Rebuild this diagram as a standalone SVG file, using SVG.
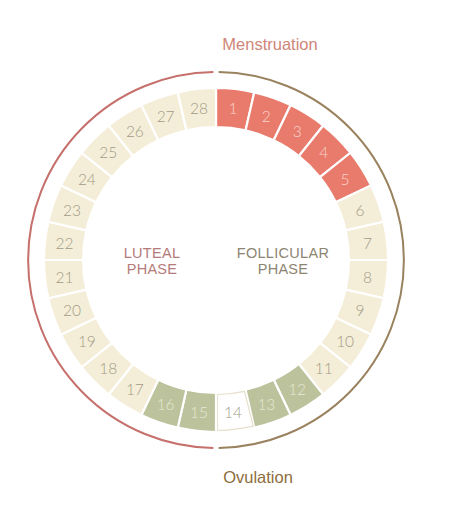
<svg xmlns="http://www.w3.org/2000/svg" width="453" height="509" viewBox="0 0 453 509">
<style>
.cell{stroke:#ffffff;stroke-width:2.2}
.b{fill:#f4eed8}
.r{fill:#e87b6c}
.g{fill:#bcc29b}
.w{fill:#ffffff}
.n{font-family:Lato,"Open Sans","Liberation Sans",sans-serif;font-weight:300;font-size:15.5px;text-anchor:middle;dominant-baseline:central}
.nb{fill:#a39a86}
.nr{fill:#f8d6cc}
.ng{fill:#e6e9d6}
.lab{font-family:"Liberation Sans",Arial,sans-serif;font-size:16.5px;text-anchor:middle}
.ph{font-family:"Liberation Sans",Arial,sans-serif;font-size:14.5px;text-anchor:middle;letter-spacing:0.3px}
</style>
<rect width="453" height="509" fill="#ffffff"/>
<g id="connectors">
<path d="M 213.38 72.02 A 188 188 0 0 0 213.38 447.98" fill="none" stroke="#c6706c" stroke-width="2"/>
<path d="M 218.62 72.02 A 188 188 0 0 1 218.62 447.98" fill="none" stroke="#9a825f" stroke-width="2"/>
</g>
<g id="day1"><path class="cell r" d="M216 88 A172 172 0 0 1 254.27 92.31 L245.60 130.33 A133 133 0 0 0 216 127 Z"/><text class="n nr" x="233.08" y="108.46">1</text></g>
<g id="day2"><path class="cell r" d="M254.27 92.31 A172 172 0 0 1 290.63 105.03 L273.71 140.17 A133 133 0 0 0 245.60 130.33 Z"/><text class="n nr" x="266.37" y="116.06">2</text></g>
<g id="day3"><path class="cell r" d="M290.63 105.03 A172 172 0 0 1 323.24 125.53 L298.92 156.02 A133 133 0 0 0 273.71 140.17 Z"/><text class="n nr" x="297.13" y="130.88">3</text></g>
<g id="day4"><path class="cell r" d="M323.24 125.53 A172 172 0 0 1 350.47 152.76 L319.98 177.08 A133 133 0 0 0 298.92 156.02 Z"/><text class="n nr" x="323.83" y="152.17">4</text></g>
<g id="day5"><path class="cell r" d="M350.47 152.76 A172 172 0 0 1 370.97 185.37 L335.83 202.29 A133 133 0 0 0 319.98 177.08 Z"/><text class="n nr" x="345.12" y="178.87">5</text></g>
<g id="day6"><path class="cell b" d="M370.97 185.37 A172 172 0 0 1 383.69 221.73 L345.67 230.40 A133 133 0 0 0 335.83 202.29 Z"/><text class="n nb" x="359.94" y="209.63">6</text></g>
<g id="day7"><path class="cell b" d="M383.69 221.73 A172 172 0 0 1 388 260 L349 260 A133 133 0 0 0 345.67 230.40 Z"/><text class="n nb" x="367.54" y="242.92">7</text></g>
<g id="day8"><path class="cell b" d="M388 260 A172 172 0 0 1 383.69 298.27 L345.67 289.60 A133 133 0 0 0 349 260 Z"/><text class="n nb" x="367.54" y="277.08">8</text></g>
<g id="day9"><path class="cell b" d="M383.69 298.27 A172 172 0 0 1 370.97 334.63 L335.83 317.71 A133 133 0 0 0 345.67 289.60 Z"/><text class="n nb" x="359.94" y="310.37">9</text></g>
<g id="day10"><path class="cell b" d="M370.97 334.63 A172 172 0 0 1 350.47 367.24 L319.98 342.92 A133 133 0 0 0 335.83 317.71 Z"/><text class="n nb" x="345.12" y="341.13">10</text></g>
<g id="day11"><path class="cell b" d="M350.47 367.24 A172 172 0 0 1 323.24 394.47 L298.92 363.98 A133 133 0 0 0 319.98 342.92 Z"/><text class="n nb" x="323.83" y="367.83">11</text></g>
<g id="day12"><path class="cell g" d="M323.24 394.47 A172 172 0 0 1 290.63 414.97 L273.71 379.83 A133 133 0 0 0 298.92 363.98 Z"/><text class="n ng" x="297.13" y="389.12">12</text></g>
<g id="day13"><path class="cell g" d="M290.63 414.97 A172 172 0 0 1 254.27 427.69 L245.60 389.67 A133 133 0 0 0 273.71 379.83 Z"/><text class="n ng" x="266.37" y="403.94">13</text></g>
<g id="day14"><path d="M253.3 426.2 A170.5 170.5 0 0 1 217.5 430.5 L217.5 394.5 A134.5 134.5 0 0 0 244.4 391.3 Z" fill="#ffffff" stroke="#e6e0cb" stroke-width="1.2"/><text class="n nb" x="233.08" y="411.54">14</text></g>
<g id="day15"><path class="cell g" d="M216 432 A172 172 0 0 1 177.73 427.69 L186.40 389.67 A133 133 0 0 0 216 393 Z"/><text class="n ng" x="198.92" y="411.54">15</text></g>
<g id="day16"><path class="cell g" d="M177.73 427.69 A172 172 0 0 1 141.37 414.97 L158.29 379.83 A133 133 0 0 0 186.40 389.67 Z"/><text class="n ng" x="165.63" y="403.94">16</text></g>
<g id="day17"><path class="cell b" d="M141.37 414.97 A172 172 0 0 1 108.76 394.47 L133.08 363.98 A133 133 0 0 0 158.29 379.83 Z"/><text class="n nb" x="134.87" y="389.12">17</text></g>
<g id="day18"><path class="cell b" d="M108.76 394.47 A172 172 0 0 1 81.53 367.24 L112.02 342.92 A133 133 0 0 0 133.08 363.98 Z"/><text class="n nb" x="108.17" y="367.83">18</text></g>
<g id="day19"><path class="cell b" d="M81.53 367.24 A172 172 0 0 1 61.03 334.63 L96.17 317.71 A133 133 0 0 0 112.02 342.92 Z"/><text class="n nb" x="86.88" y="341.13">19</text></g>
<g id="day20"><path class="cell b" d="M61.03 334.63 A172 172 0 0 1 48.31 298.27 L86.33 289.60 A133 133 0 0 0 96.17 317.71 Z"/><text class="n nb" x="72.06" y="310.37">20</text></g>
<g id="day21"><path class="cell b" d="M48.31 298.27 A172 172 0 0 1 44 260 L83 260 A133 133 0 0 0 86.33 289.60 Z"/><text class="n nb" x="64.46" y="277.08">21</text></g>
<g id="day22"><path class="cell b" d="M44 260 A172 172 0 0 1 48.31 221.73 L86.33 230.40 A133 133 0 0 0 83 260 Z"/><text class="n nb" x="64.46" y="242.92">22</text></g>
<g id="day23"><path class="cell b" d="M48.31 221.73 A172 172 0 0 1 61.03 185.37 L96.17 202.29 A133 133 0 0 0 86.33 230.40 Z"/><text class="n nb" x="72.06" y="209.63">23</text></g>
<g id="day24"><path class="cell b" d="M61.03 185.37 A172 172 0 0 1 81.53 152.76 L112.02 177.08 A133 133 0 0 0 96.17 202.29 Z"/><text class="n nb" x="86.88" y="178.87">24</text></g>
<g id="day25"><path class="cell b" d="M81.53 152.76 A172 172 0 0 1 108.76 125.53 L133.08 156.02 A133 133 0 0 0 112.02 177.08 Z"/><text class="n nb" x="108.17" y="152.17">25</text></g>
<g id="day26"><path class="cell b" d="M108.76 125.53 A172 172 0 0 1 141.37 105.03 L158.29 140.17 A133 133 0 0 0 133.08 156.02 Z"/><text class="n nb" x="134.87" y="130.88">26</text></g>
<g id="day27"><path class="cell b" d="M141.37 105.03 A172 172 0 0 1 177.73 92.31 L186.40 130.33 A133 133 0 0 0 158.29 140.17 Z"/><text class="n nb" x="165.63" y="116.06">27</text></g>
<g id="day28"><path class="cell b" d="M177.73 92.31 A172 172 0 0 1 216 88 L216 127 A133 133 0 0 0 186.40 130.33 Z"/><text class="n nb" x="198.92" y="108.46">28</text></g>
<g id="menstruation"><text class="lab" x="270" y="50" fill="#cf8678">Menstruation</text></g>
<g id="ovulation"><text class="lab" x="258" y="483" fill="#8d6d3b">Ovulation</text></g>
<g id="luteal"><text class="ph" x="152" y="258" fill="#b57b7b">LUTEAL</text><text class="ph" x="152" y="274" fill="#b57b7b">PHASE</text></g>
<g id="follicular"><text class="ph" x="283" y="258" fill="#8c8572">FOLLICULAR</text><text class="ph" x="283" y="274" fill="#8c8572">PHASE</text></g>
</svg>
